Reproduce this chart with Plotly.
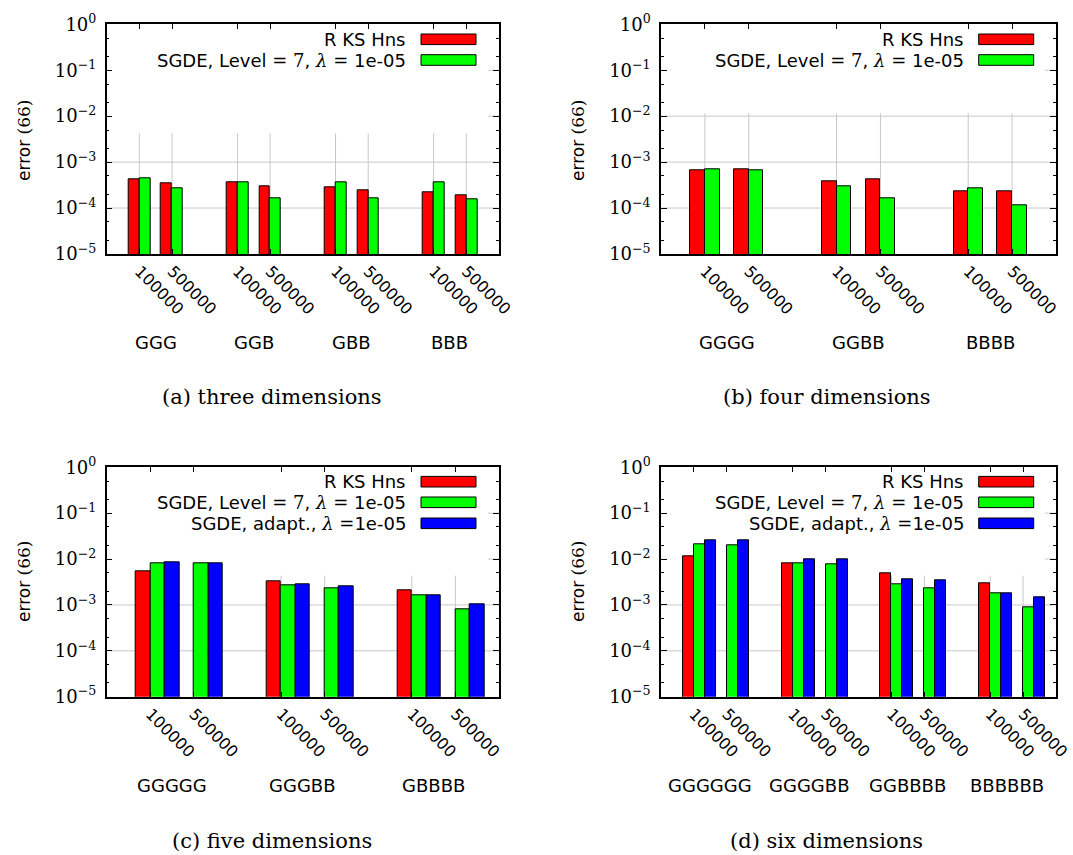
import plotly.graph_objects as go

W, H = 1073, 855

# ---- data -------------------------------------------------------------
series_names = [
    "R KS Hns",
    "SGDE, Level <span style='font-family:DejaVu Serif'>= 7</span>, "
    "<span style='font-family:DejaVu Serif'><i>λ</i> =</span> 1e-05",
    "SGDE, adapt., <span style='font-family:DejaVu Serif'><i>λ</i> =</span>1e-05",
]
sample_sizes = ["100000", "500000"]

groups_a = ["GGG", "GGB", "GBB", "BBB"]
rks_a = [4.20e-4, 3.43e-4, 3.61e-4, 2.96e-4, 2.81e-4, 2.45e-4, 2.22e-4, 1.88e-4]
sgde_a = [4.42e-4, 2.71e-4, 3.72e-4, 1.67e-4, 3.61e-4, 1.64e-4, 3.61e-4, 1.59e-4]

groups_b = ["GGGG", "GGBB", "BBBB"]
rks_b = [6.49e-4, 7.03e-4, 3.79e-4, 4.13e-4, 2.37e-4, 2.37e-4]
sgde_b = [7.03e-4, 6.49e-4, 3.05e-4, 1.64e-4, 2.76e-4, 1.17e-4]

groups_c = ["GGGGG", "GGGBB", "GBBBB"]
rks_c = [5.31e-3, None, 3.33e-3, None, 2.12e-3, None]
sgde_c = [8.07e-3, 8.07e-3, 2.72e-3, 2.30e-3, 1.59e-3, 7.88e-4]
adapt_c = [8.49e-3, 8.20e-3, 2.86e-3, 2.50e-3, 1.59e-3, 1.03e-3]

groups_d = ["GGGGGG", "GGGGBB", "GGBBBB", "BBBBBB"]
rks_d = [1.17e-2, None, 8.07e-3, None, 4.89e-3, None, 2.91e-3, None]
sgde_d = [2.10e-2, 2.03e-2, 8.07e-3, 7.80e-3, 2.86e-3, 2.34e-3, 1.79e-3, 8.87e-4]
adapt_d = [2.60e-2, 2.60e-2, 9.87e-3, 9.87e-3, 3.67e-3, 3.44e-3, 1.82e-3, 1.44e-3]

captions = ["(a) three dimensions", "(b) four dimensions",
            "(c) five dimensions", "(d) six dimensions"]

y_exponents = [-5, -4, -3, -2, -1, 0]
y_tickvals = [10.0 ** e for e in y_exponents]
y_ticktext = ["10<sup>−5</sup>", "10<sup>−4</sup>", "10<sup>−3</sup>",
              "10<sup>−2</sup>", "10<sup>−1</sup>", "10<sup>0</sup>"]
y_minorvals = [m * 10.0 ** e for e in range(-5, 0) for m in (2, 5)]

# ---- styling ----------------------------------------------------------
colors = ["#ff0000", "#00ff00", "#0000ff"]
SANS = "DejaVu Sans"
SERIF = "DejaVu Serif"
GRID = "#c8c8c8"

panels = [
    dict(groups=groups_a, series=[rks_a, sgde_a], xpx=(106.7, 499.0), ypx=(24.3, 254.0),
         xr=[-1, 11], key_bottom=133.3, leg_right=408.0, rows=[39.3, 60.0],
         caption=(272, 397), ylab=(24, 141), glab_y=342),
    dict(groups=groups_b, series=[rks_b, sgde_b], xpx=(661.0, 1056.0), ypx=(24.3, 254.0),
         xr=[-1, 8], key_bottom=113.3, leg_right=965.7, rows=[39.3, 60.0],
         caption=(827, 397), ylab=(578, 141), glab_y=342),
    dict(groups=groups_c, series=[rks_c, sgde_c, adapt_c], xpx=(106.7, 499.0), ypx=(467.3, 696.7),
         xr=[-1, 8], key_bottom=575.7, leg_right=408.0, rows=[481.7, 502.3, 523.3],
         caption=(272, 841), ylab=(24, 582), glab_y=785),
    dict(groups=groups_d, series=[rks_d, sgde_d, adapt_d], xpx=(661.0, 1056.0), ypx=(467.3, 696.7),
         xr=[-1, 11], key_bottom=575.7, leg_right=965.7, rows=[481.7, 502.3, 523.3],
         caption=(826, 841), ylab=(578, 582), glab_y=785),
]


def fx(px):
    return px / W


def fy(py):
    return 1 - py / H


fig = go.Figure()
layout = dict(width=W, height=H, margin=dict(l=0, r=0, t=0, b=0, autoexpand=False),
              template="none", paper_bgcolor="white", plot_bgcolor="white",
              barmode="overlay", showlegend=False, bargap=0)
shapes, annotations = [], []

for k, p in enumerate(panels):
    n = k + 1
    xa = "x" if n == 1 else f"x{n}"
    ya = "y" if n == 1 else f"y{n}"
    xkey = "xaxis" if n == 1 else f"xaxis{n}"
    ykey = "yaxis" if n == 1 else f"yaxis{n}"

    ticks = [3 * g + s for g in range(len(p["groups"])) for s in range(len(sample_sizes))]
    ticktext = [sample_sizes[s] for g in range(len(p["groups"])) for s in range(len(sample_sizes))]

    for i, vals in enumerate(p["series"]):
        xs = [t + (i - 0.5) / 3 for t in ticks]
        fig.add_trace(go.Bar(
            x=xs, y=vals, width=1 / 3, xaxis=xa, yaxis=ya,
            marker=dict(color=colors[i], line=dict(color="black", width=1)),
            name=series_names[i], hoverinfo="skip"))

    layout[xkey] = dict(
        domain=[fx(p["xpx"][0]), fx(p["xpx"][1])], anchor=ya, range=p["xr"],
        automargin=False,
        tickmode="array", tickvals=ticks, ticktext=ticktext, tickangle=45,
        ticks="inside", ticklen=5, tickcolor="black", mirror="ticks",
        showline=True, linecolor="black", linewidth=1.5,
        showgrid=False, zeroline=False,
        tickfont=dict(family=SANS, size=16, color="black"), fixedrange=True)
    layout[ykey] = dict(
        domain=[fy(p["ypx"][1]), fy(p["ypx"][0])], anchor=xa, type="log", range=[-5, 0],
        automargin=False,
        tickmode="array", tickvals=y_tickvals, ticktext=y_ticktext,
        ticks="inside", ticklen=6, tickcolor="black", mirror="ticks",
        minor=dict(tickmode="array", tickvals=y_minorvals, ticks="inside",
                   ticklen=3, tickcolor="black", showgrid=False),
        showline=True, linecolor="black", linewidth=1.5,
        showgrid=False, zeroline=False, ticklabelstandoff=5,
        tickfont=dict(family=SERIF, size=18, color="black"), fixedrange=True)

    # grid lines, left out where the opaque key box sits
    plot_w = p["xpx"][1] - p["xpx"][0]
    plot_h = p["ypx"][1] - p["ypx"][0]
    key_frac = (p["ypx"][1] - p["key_bottom"]) / plot_h
    key_right = 1 - 11 / plot_w
    for e in y_exponents[1:-1]:
        fr = (e - y_exponents[0]) / (y_exponents[-1] - y_exponents[0])
        x_start = key_right if fr > key_frac else 0
        shapes.append(dict(
            type="line", xref=f"{xa} domain", yref=f"{ya} domain", layer="below",
            x0=x_start, x1=1, y0=fr, y1=fr, line=dict(color=GRID, width=1)))
    for t in ticks:
        shapes.append(dict(
            type="line", xref=xa, yref=f"{ya} domain", layer="below",
            x0=t, x1=t, y0=0, y1=key_frac, line=dict(color=GRID, width=1)))

    # key entries
    for i, row in enumerate(p["rows"]):
        annotations.append(dict(
            xref="paper", yref="paper", x=fx(p["leg_right"]), y=fy(row),
            xanchor="right", yanchor="middle", showarrow=False,
            text=series_names[i], font=dict(family=SANS, size=18, color="black")))
        shapes.append(dict(
            type="rect", xref="paper", yref="paper", layer="above",
            x0=fx(p["leg_right"] + 13), x1=fx(p["leg_right"] + 68),
            y0=fy(row + 5.3), y1=fy(row - 5.3),
            fillcolor=colors[i], line=dict(color="black", width=1)))

    # group names under the clusters
    for g, name in enumerate(p["groups"]):
        annotations.append(dict(
            xref=xa, yref="paper", x=3 * g + 0.5, y=fy(p["glab_y"]),
            xanchor="center", yanchor="middle", showarrow=False,
            text=name, font=dict(family=SANS, size=18, color="black")))

    # y-axis title
    annotations.append(dict(
        xref="paper", yref="paper", x=fx(p["ylab"][0]), y=fy(p["ylab"][1]),
        xanchor="center", yanchor="middle", showarrow=False, textangle=-90,
        text=f"error <span style='font-family:{SERIF}'>(66)</span>",
        font=dict(family=SANS, size=17, color="black")))

    # sub-figure caption
    annotations.append(dict(
        xref="paper", yref="paper", x=fx(p["caption"][0]), y=fy(p["caption"][1]),
        xanchor="center", yanchor="middle", showarrow=False,
        text=captions[k], font=dict(family=SERIF, size=21, color="black")))

layout["shapes"] = shapes
layout["annotations"] = annotations
fig.update_layout(**layout)
fig.write_html("out.html")
